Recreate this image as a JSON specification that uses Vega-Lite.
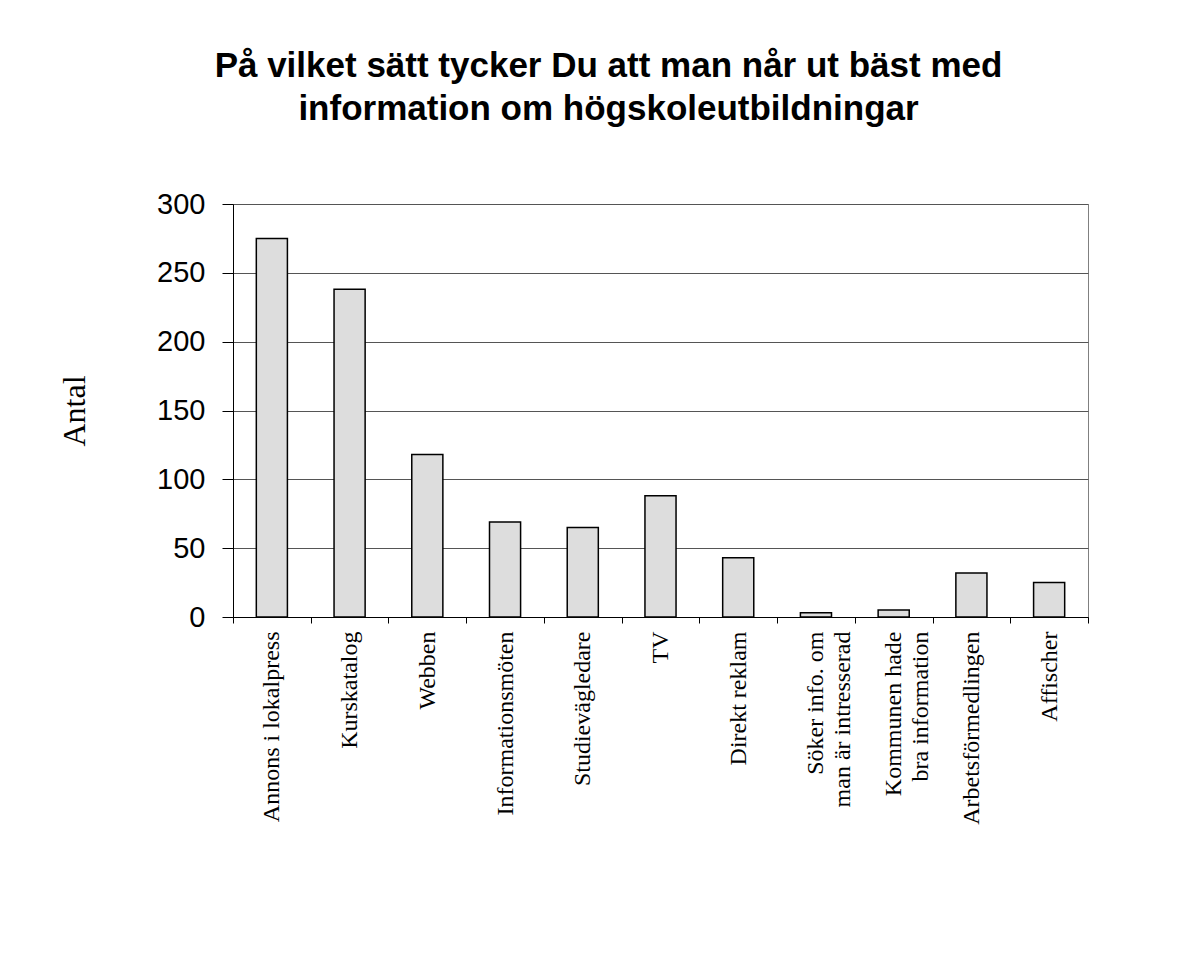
{
  "$schema": "https://vega.github.io/schema/vega-lite/v6.json",
  "width": 855,
  "height": 413,
  "autosize": "none",
  "padding": {"left": 233, "top": 204, "right": 106, "bottom": 344},
  "background": "white",
  "title": {
    "text": ["På vilket sätt tycker Du att man når ut bäst med", "information om högskoleutbildningar"],
    "font": "Liberation Sans",
    "fontSize": 35,
    "fontWeight": "bold",
    "lineHeight": 43,
    "color": "black",
    "anchor": "middle",
    "dx": -52,
    "offset": 63
  },
  "data": {
    "values": [
      {"kanal": "Annons i lokalpress", "antal": 275},
      {"kanal": "Kurskatalog", "antal": 238},
      {"kanal": "Webben", "antal": 118},
      {"kanal": "Informationsmöten", "antal": 69},
      {"kanal": "Studievägledare", "antal": 65},
      {"kanal": "TV", "antal": 88},
      {"kanal": "Direkt reklam", "antal": 43},
      {"kanal": "Söker info. om\nman är intresserad", "antal": 3},
      {"kanal": "Kommunen hade\nbra information", "antal": 5},
      {"kanal": "Arbetsförmedlingen", "antal": 32},
      {"kanal": "Affischer", "antal": 25}
    ]
  },
  "mark": {"type": "bar", "fill": "#dddddd", "stroke": "black", "strokeWidth": 1.5, "width": {"band": 0.4}},
  "encoding": {
    "x": {
      "field": "kanal",
      "type": "nominal",
      "sort": null,
      "scale": {"paddingInner": 0, "paddingOuter": 0},
      "axis": {
        "title": null,
        "tickBand": "extent",
        "tickSize": 6,
        "tickColor": "black",
        "domainColor": "black",
        "labelAngle": -90,
        "labelFont": "Liberation Serif",
        "labelFontSize": 24,
        "labelColor": "black",
        "labelPadding": 8,
        "labelLimit": 400,
        "labelLineHeight": 27,
        "labelExpr": "split(datum.label, '\\n')"
      }
    },
    "y": {
      "field": "antal",
      "type": "quantitative",
      "scale": {"domain": [0, 300]},
      "axis": {
        "values": [0, 50, 100, 150, 200, 250, 300],
        "title": "Antal",
        "titleFont": "Liberation Serif",
        "titleFontSize": 32,
        "titleFontWeight": "normal",
        "titleColor": "black",
        "titlePadding": 65,
        "labelFont": "Liberation Sans",
        "labelFontSize": 29,
        "labelColor": "black",
        "labelPadding": 17,
        "tickSize": 11,
        "tickColor": "black",
        "domainColor": "black",
        "gridColor": "#555555",
        "gridOpacity": 1
      }
    }
  },
  "config": {"view": {"stroke": "#808080", "strokeWidth": 1}}
}
